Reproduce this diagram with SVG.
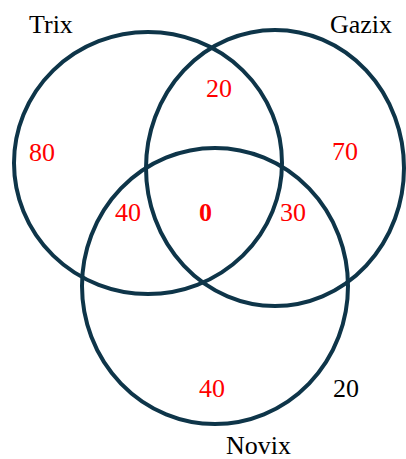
<svg xmlns="http://www.w3.org/2000/svg" width="406" height="459" viewBox="0 0 406 459">
<style>
.set{fill:none;stroke:#0e3549;stroke-width:4}
.lbl{font-family:"Liberation Serif","Times New Roman",serif;font-size:26px;fill:#000}
.num{font-family:"Liberation Serif","Times New Roman",serif;font-size:26px;fill:#ff0000}
.bold{font-weight:bold}
</style>
<rect width="406" height="459" fill="#ffffff"/>
<g id="trix">
<ellipse class="set" cx="148" cy="163" rx="134" ry="131"/>
<text class="lbl" x="29" y="33">Trix</text>
</g>
<g id="gazix">
<ellipse class="set" cx="275" cy="168" rx="129" ry="138"/>
<text class="lbl" x="330" y="33">Gazix</text>
</g>
<g id="novix">
<ellipse class="set" cx="215" cy="286" rx="133" ry="138"/>
<text class="lbl" x="226" y="454">Novix</text>
</g>
<g id="connectors"></g>
<g id="counts">
<text class="num" x="206" y="97">20</text>
<text class="num" x="29" y="161">80</text>
<text class="num" x="332" y="160">70</text>
<text class="num" x="115" y="221">40</text>
<text class="num bold" x="199" y="221">0</text>
<text class="num" x="280" y="221">30</text>
<text class="num" x="199" y="397">40</text>
<text class="lbl" x="333" y="397">20</text>
</g>
</svg>
